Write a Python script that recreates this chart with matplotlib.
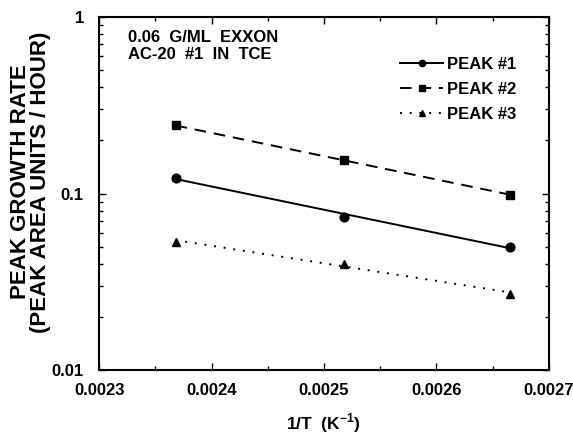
import numpy as np
import matplotlib
matplotlib.use('Agg')
import matplotlib.pyplot as plt
from matplotlib.lines import Line2D
from matplotlib.ticker import LogLocator, MultipleLocator, NullFormatter, FixedFormatter, FixedLocator

plt.rcParams['font.family'] = ['Liberation Sans', 'DejaVu Sans']
plt.rcParams['font.weight'] = 'bold'
plt.rcParams['mathtext.fontset'] = 'custom'
plt.rcParams['mathtext.bf'] = 'Liberation Sans:bold'
plt.rcParams['mathtext.rm'] = 'Liberation Sans:bold'

inv_t = [0.002368, 0.002518, 0.002665]
peak1 = [0.123, 0.074, 0.050]
peak2 = [0.243, 0.154, 0.0987]
peak3 = [0.0535, 0.0401, 0.0271]
xticks = [0.0023, 0.0024, 0.0025, 0.0026, 0.0027]
xtick_labels = ['0.0023', '0.0024', '0.0025', '0.0026', '0.0027']

series = [
    (peak1, 'o', '-', 'PEAK #1'),
    (peak2, 's', (0, (6, 4)), 'PEAK #2'),
    (peak3, '^', (0, (1, 4)), 'PEAK #3'),
]

fig = plt.figure(figsize=(5.73, 4.34), dpi=100)
ax = fig.add_axes([0.173, 0.147, 0.785, 0.814])

x = np.array(inv_t)
handles = []
for y, mk, ls, lab in series:
    # least-squares line in log space through the points
    p = np.polyfit(x, np.log10(y), 1)
    ax.plot(x, 10 ** np.polyval(p, x), color='black', ls=ls, lw=1.4)
    ax.plot(x, y, mk, color='black', ms=6.3, ls='none')
    handles.append(Line2D([], [], color='black', ls=ls, lw=1.4, marker=mk, ms=4.5, label=lab))

ax.set_yscale('log')
ax.set_xlim(0.0023, 0.0027)
ax.set_ylim(0.01, 1)
ax.xaxis.set_major_locator(FixedLocator(xticks))
ax.xaxis.set_major_formatter(FixedFormatter(xtick_labels))
ax.xaxis.set_minor_locator(MultipleLocator(0.00005))
ax.set_yticks([0.01, 0.1, 1])
ax.set_yticklabels(['0.01', '0.1', '1'])
ax.yaxis.set_minor_locator(LogLocator(base=10, subs=np.arange(2, 10)))
ax.yaxis.set_minor_formatter(NullFormatter())
ax.tick_params(which='both', direction='in', top=True, right=True, width=1)
ax.tick_params(which='major', length=5, labelsize=12)
ax.tick_params(axis='x', which='major', pad=9)
ax.tick_params(axis='y', which='major', pad=11)
ax.tick_params(which='minor', length=3)
for s in ax.spines.values():
    s.set_linewidth(1.5)

ax.set_xlabel('1/T  (K$^{-1}$)', fontsize=12.5, fontweight='bold')
ax.xaxis.set_label_coords(0.498, -0.118)
fig.text(0.053, 0.581, 'PEAK GROWTH RATE\n(PEAK AREA UNITS / HOUR)', rotation=90,
         fontsize=16, fontweight='bold', ha='center', va='center',
         multialignment='center', linespacing=0.95)

ax.text(0.064, 0.962, '0.06  G/ML  EXXON\nAC-20  #1  IN  TCE', transform=ax.transAxes,
        fontsize=12, fontweight='bold', va='top', ha='left', linespacing=1.15)

ax.legend(handles=handles, loc='upper left', bbox_to_anchor=(0.65, 0.91), frameon=False,
          borderpad=0, fontsize=12, handlelength=2.6, handletextpad=0.2, labelspacing=0.6)

fig.savefig('out.png', dpi=100)
